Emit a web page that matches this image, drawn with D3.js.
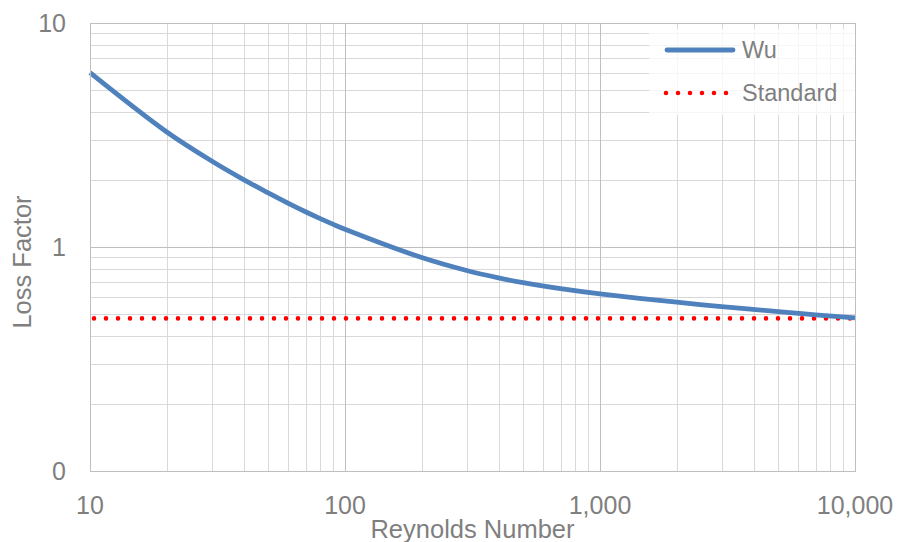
<!DOCTYPE html>
<meta charset="utf-8">
<script src="https://d3js.org/d3.v7.min.js"></script>
<style>
  body { margin: 0; background: #fff; }
  text { font-family: "Liberation Sans", Arial, sans-serif; fill: #7f7f7f; }
</style>
<div id="chart"></div>
<script>
// Reynolds number samples and loss factors
const reynolds = [10, 20, 30, 40, 50, 60, 70, 80, 90, 100, 200, 300, 400, 500, 700, 1000, 2000, 3000, 5000, 7000, 10000];
const wuLoss   = [6.0, 3.26, 2.42, 2.00, 1.745, 1.567, 1.437, 1.339, 1.262, 1.20, 0.897, 0.785, 0.728, 0.693, 0.652, 0.618, 0.567, 0.542, 0.515, 0.498, 0.483];
const standardRe   = [10, 10000];
const standardLoss = [0.48, 0.48];

const xTicks = [10, 100, 1000, 10000];
const xTickLabels = ["10", "100", "1,000", "10,000"];
const yTicks = [0.1, 1, 10];
const yTickLabels = ["0", "1", "10"];

const W = 897, H = 542;
const margin = {top: 23, right: 42, bottom: 71, left: 90};
const width = W - margin.left - margin.right,
      height = H - margin.top - margin.bottom;

const svg = d3.select("#chart").append("svg")
    .attr("width", W)
    .attr("height", H);

const g = svg.append("g")
    .attr("transform", `translate(${margin.left},${margin.top})`);

const x = d3.scaleLog().domain([10, 10000]).range([0, width]);
const y = d3.scaleLog().domain([0.1, 10]).range([height, 0]);

// minor + major gridlines
const minorX = [], minorY = [];
for (let d = 10; d < 10000; d *= 10) for (let m = 2; m <= 9; m++) minorX.push(d * m);
for (let d = 0.1; d < 10; d *= 10) for (let m = 2; m <= 9; m++) minorY.push(+(d * m).toFixed(3));

g.append("g").selectAll("line").data(minorX).join("line")
    .attr("x1", d => Math.round(x(d)) + 0.5).attr("x2", d => Math.round(x(d)) + 0.5)
    .attr("y1", 0).attr("y2", height)
    .attr("stroke", "#d9d9d9");
g.append("g").selectAll("line").data(minorY).join("line")
    .attr("y1", d => Math.round(y(d)) + 0.5).attr("y2", d => Math.round(y(d)) + 0.5)
    .attr("x1", 0).attr("x2", width)
    .attr("stroke", "#d9d9d9");
g.append("g").selectAll("line").data(xTicks).join("line")
    .attr("x1", d => Math.round(x(d)) + 0.5).attr("x2", d => Math.round(x(d)) + 0.5)
    .attr("y1", 0).attr("y2", height)
    .attr("stroke", "#bfbfbf");
g.append("g").selectAll("line").data(yTicks).join("line")
    .attr("y1", d => Math.round(y(d)) + 0.5).attr("y2", d => Math.round(y(d)) + 0.5)
    .attr("x1", 0).attr("x2", width)
    .attr("stroke", "#bfbfbf");

// tick labels
g.append("g").selectAll("text").data(xTicks).join("text")
    .attr("x", d => x(d))
    .attr("y", height + 43)
    .attr("text-anchor", "middle")
    .style("font-size", "25px")
    .text((d, i) => xTickLabels[i]);
g.append("g").selectAll("text").data(yTicks).join("text")
    .attr("x", -24)
    .attr("y", d => y(d))
    .attr("dy", "0.36em")
    .attr("text-anchor", "end")
    .style("font-size", "25px")
    .text((d, i) => yTickLabels[i]);

// axis titles
svg.append("text")
    .attr("x", margin.left + width / 2)
    .attr("y", 538)
    .attr("text-anchor", "middle")
    .style("font-size", "25.5px")
    .text("Reynolds Number");
svg.append("text")
    .attr("transform", "translate(31,262) rotate(-90)")
    .attr("text-anchor", "middle")
    .style("font-size", "25.5px")
    .text("Loss Factor");

// series
const wuData = reynolds.map((r, i) => ({re: r, k: wuLoss[i]}));
const stdData = standardRe.map((r, i) => ({re: r, k: standardLoss[i]}));
const line = d3.line()
    .x(d => x(d.re))
    .y(d => y(d.k))
    .curve(d3.curveCatmullRom.alpha(0.5));

g.append("path")
    .datum(stdData)
    .attr("fill", "none")
    .attr("stroke", "#ff0000")
    .attr("stroke-width", 4.6)
    .attr("stroke-linecap", "round")
    .attr("stroke-dasharray", "0 12")
    .attr("stroke-dashoffset", -4)
    .attr("d", line);

g.append("path")
    .datum(wuData)
    .attr("fill", "none")
    .attr("stroke", "#4f81bd")
    .attr("stroke-width", 4.8)
    .attr("d", line);

// legend
const legend = g.append("g").attr("transform", `translate(${559},0)`);
legend.append("rect")
    .attr("x", 0).attr("y", 6)
    .attr("width", width - 559).attr("height", 86)
    .attr("fill", "#fff").attr("fill-opacity", 0.75);
legend.append("line")
    .attr("x1", 18).attr("x2", 84).attr("y1", 27).attr("y2", 27)
    .attr("stroke", "#4f81bd").attr("stroke-width", 4.8)
    .attr("stroke-linecap", "round");
legend.append("text")
    .attr("x", 93).attr("y", 27).attr("dy", "0.36em")
    .style("font-size", "23.5px")
    .text("Wu");
legend.append("line")
    .attr("x1", 17).attr("x2", 79).attr("y1", 70).attr("y2", 70)
    .attr("stroke", "#ff0000").attr("stroke-width", 4.6)
    .attr("stroke-linecap", "round")
    .attr("stroke-dasharray", "0 12");
legend.append("text")
    .attr("x", 93).attr("y", 70).attr("dy", "0.36em")
    .style("font-size", "23.5px")
    .text("Standard");

// plot border
g.append("rect")
    .attr("x", 0.5).attr("y", 0.5)
    .attr("width", width).attr("height", height)
    .attr("fill", "none")
    .attr("stroke", "#bfbfbf");
</script>
